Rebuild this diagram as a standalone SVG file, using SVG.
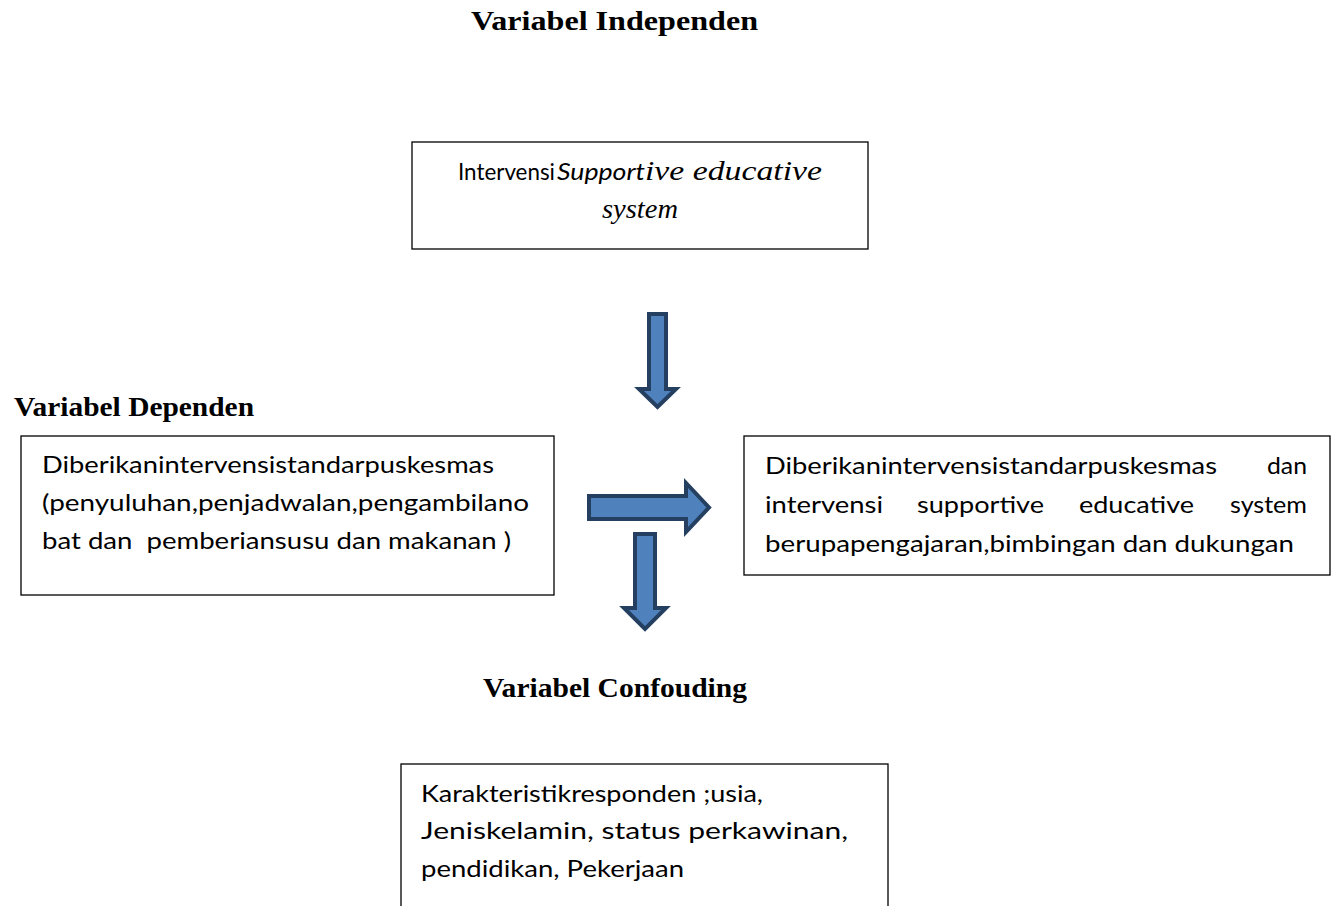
<svg xmlns="http://www.w3.org/2000/svg" width="1338" height="906" viewBox="0 0 1338 906">
<style>
.box{fill:#ffffff;stroke:#000000;stroke-width:1.3}
.t{font-family:Lato,"Open Sans","Liberation Sans",sans-serif;font-size:24px;fill:#000}
.ti{font-family:Lato,"Open Sans","Liberation Sans",sans-serif;font-size:24px;font-style:italic;fill:#000}
.si{font-family:"Liberation Serif","Times New Roman",serif;font-size:27px;font-style:italic;fill:#000}
.h{font-family:"Liberation Serif","Times New Roman",serif;font-size:27px;font-weight:bold;fill:#000}
.arr{fill:#4F81BD;stroke:#243F60;stroke-width:4;stroke-linejoin:miter}
</style>
<rect width="1338" height="906" fill="#ffffff"/>
<g id="titles">
<text class="h" x="471" y="30" textLength="287" lengthAdjust="spacingAndGlyphs">Variabel Independen</text>
<text class="h" x="14" y="416" textLength="240" lengthAdjust="spacingAndGlyphs">Variabel Dependen</text>
<text class="h" x="483" y="697" textLength="264" lengthAdjust="spacingAndGlyphs">Variabel Confouding</text>
</g>
<g id="node-intervensi">
<rect class="box" x="412" y="142" width="456" height="107"/>
<text class="t" x="458" y="180" textLength="97" lengthAdjust="spacingAndGlyphs">Intervensi</text>
<text class="ti" x="557" y="180" textLength="88" lengthAdjust="spacingAndGlyphs">Support</text>
<text class="si" x="645" y="180" textLength="177" lengthAdjust="spacingAndGlyphs">ive educative</text>
<text class="si" x="602" y="218" textLength="76" lengthAdjust="spacingAndGlyphs">system</text>
</g>
<g id="node-dependen">
<rect class="box" x="21" y="436" width="533" height="159"/>
<text class="t" x="42" y="473" textLength="452" lengthAdjust="spacingAndGlyphs">Diberikanintervensistandarpuskesmas</text>
<text class="t" x="42" y="511" textLength="487" lengthAdjust="spacingAndGlyphs">(penyuluhan,penjadwalan,pengambilano</text>
<text class="t" x="42" y="549" textLength="469" lengthAdjust="spacingAndGlyphs" xml:space="preserve">bat dan  pemberiansusu dan makanan )</text>
</g>
<g id="node-hasil">
<rect class="box" x="744" y="436" width="586" height="139"/>
<text class="t" x="765" y="474" textLength="452" lengthAdjust="spacingAndGlyphs">Diberikanintervensistandarpuskesmas</text>
<text class="t" x="1267" y="474" textLength="40" lengthAdjust="spacingAndGlyphs">dan</text>
<text class="t" x="765" y="513" textLength="118" lengthAdjust="spacingAndGlyphs">intervensi</text>
<text class="t" x="917" y="513" textLength="127" lengthAdjust="spacingAndGlyphs">supportive</text>
<text class="t" x="1079" y="513" textLength="115" lengthAdjust="spacingAndGlyphs">educative</text>
<text class="t" x="1230" y="513" textLength="77" lengthAdjust="spacingAndGlyphs">system</text>
<text class="t" x="765" y="552" textLength="529" lengthAdjust="spacingAndGlyphs">berupapengajaran,bimbingan dan dukungan</text>
</g>
<g id="node-confounding">
<rect class="box" x="401" y="764" width="487" height="160"/>
<text class="t" x="421" y="802" textLength="342" lengthAdjust="spacingAndGlyphs">Karakteristikresponden ;usia,</text>
<text class="t" x="421" y="839" textLength="427" lengthAdjust="spacingAndGlyphs">Jeniskelamin, status perkawinan,</text>
<text class="t" x="421" y="877" textLength="263" lengthAdjust="spacingAndGlyphs">pendidikan, Pekerjaan</text>
</g>
<g id="connectors">
<path class="arr" d="M649,314 H666 V389 H676 L657.5,407 L639,389 H649 Z"/>
<path class="arr" d="M589,496 H686 V483 L709,507.5 L686,532 V519 H589 Z"/>
<path class="arr" d="M635,534 H655 V608 H666 L645,629 L624,608 H635 Z"/>
</g>
</svg>
